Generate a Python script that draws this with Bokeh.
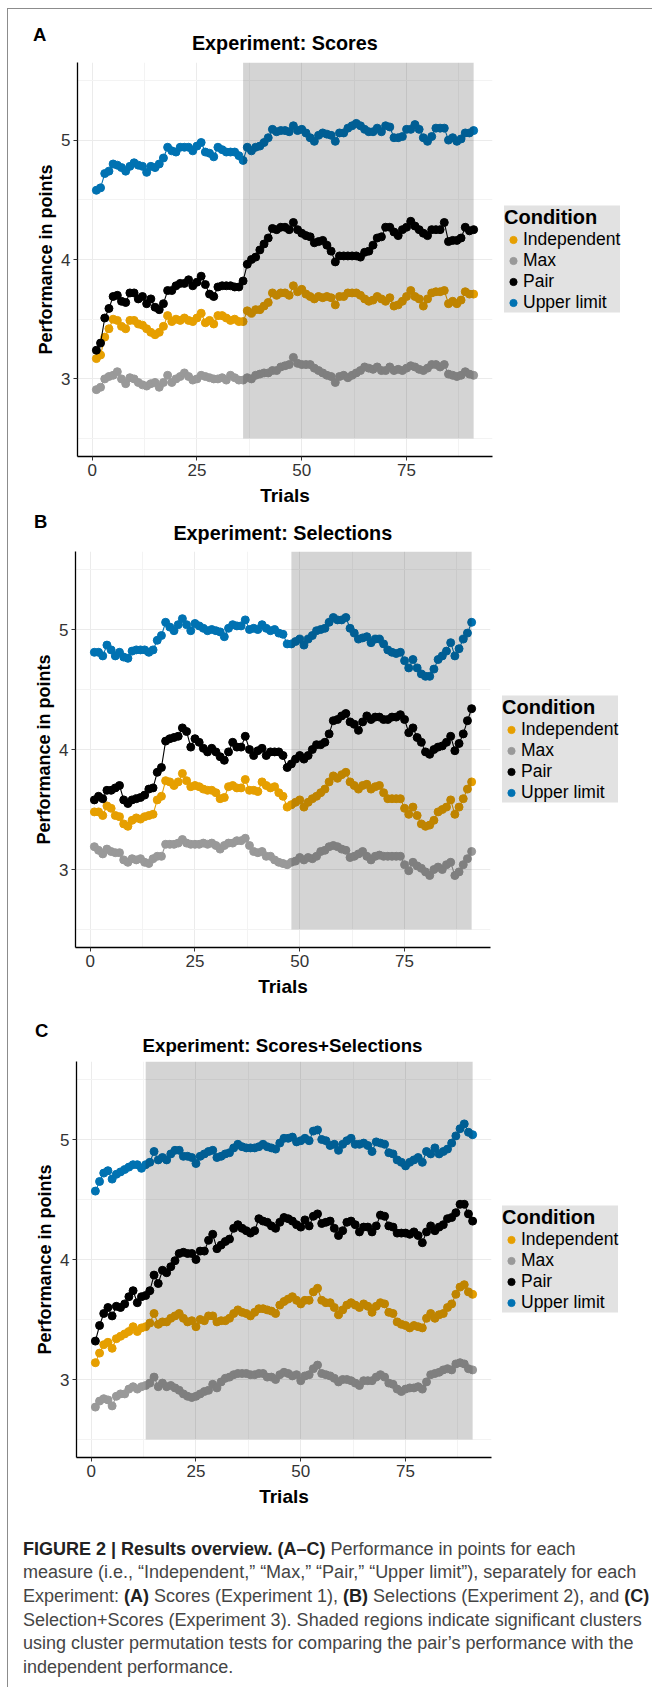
from bokeh.plotting import figure
from bokeh.models import Range1d, FixedTicker, Legend, LegendItem, Div
from bokeh.layouts import column, row
from bokeh.embed import file_html
from bokeh.resources import INLINE

# ---------------- data ----------------
trials = list(range(1, 92))
conditions = ["Independent", "Max", "Pair", "Upper limit"]
colors = ["#E69F00", "#999999", "#000000", "#0072B2"]

panel_letters = ["A", "B", "C"]
panel_titles = ["Experiment: Scores", "Experiment: Selections", "Experiment: Scores+Selections"]
cluster_start = [36, 48, 13]
cluster_end = [91, 91, 91]
cluster_bottom = 2.5
y_limits = (2.5, 5.5)
x_ticks = [0, 25, 50, 75]
x_minor = [12.5, 37.5, 62.5, 87.5]
y_ticks = [3, 4, 5]
y_minor = [2.5, 3.5, 4.5, 5.5]

A_independent = [3.17,3.20,3.35,3.42,3.50,3.49,3.44,3.42,3.49,3.49,
                 3.46,3.45,3.42,3.39,3.37,3.39,3.44,3.53,3.48,3.50,
                 3.49,3.51,3.49,3.48,3.51,3.55,3.47,3.49,3.46,3.53,
                 3.53,3.51,3.49,3.50,3.48,3.48,3.57,3.55,3.58,3.58,
                 3.61,3.64,3.72,3.70,3.72,3.72,3.70,3.78,3.73,3.75,
                 3.71,3.69,3.67,3.69,3.68,3.69,3.68,3.62,3.69,3.69,
                 3.72,3.72,3.72,3.70,3.67,3.65,3.66,3.69,3.67,3.65,
                 3.68,3.61,3.62,3.65,3.69,3.74,3.69,3.67,3.61,3.67,
                 3.72,3.73,3.73,3.74,3.63,3.65,3.63,3.66,3.73,3.71,3.71]
A_max = [2.91,2.93,3.00,3.02,3.03,3.06,3.00,2.96,3.01,3.00,
         2.97,2.95,2.94,2.96,2.97,2.93,2.97,3.03,2.97,3.00,
         3.02,3.05,3.02,2.99,3.00,3.03,3.02,3.01,3.00,3.00,
         3.01,2.99,3.03,3.01,2.99,2.99,3.01,3.00,3.03,3.04,
         3.05,3.05,3.07,3.07,3.10,3.11,3.12,3.18,3.13,3.12,
         3.12,3.12,3.09,3.07,3.05,3.03,3.02,2.97,3.02,3.03,
         3.01,3.03,3.05,3.07,3.10,3.09,3.08,3.10,3.07,3.07,
         3.10,3.07,3.08,3.07,3.09,3.11,3.10,3.08,3.07,3.09,
         3.12,3.12,3.10,3.12,3.04,3.03,3.02,3.03,3.06,3.04,3.03]
A_pair = [3.24,3.30,3.51,3.59,3.69,3.70,3.65,3.64,3.72,3.72,
          3.67,3.69,3.63,3.67,3.60,3.58,3.63,3.74,3.74,3.78,
          3.80,3.80,3.83,3.78,3.81,3.86,3.79,3.71,3.69,3.77,
          3.78,3.78,3.78,3.77,3.77,3.82,3.96,4.00,4.02,4.08,
          4.13,4.18,4.26,4.25,4.27,4.27,4.25,4.31,4.25,4.22,
          4.20,4.19,4.14,4.15,4.16,4.12,4.07,3.98,4.03,4.03,
          4.03,4.03,4.03,4.02,4.06,4.07,4.12,4.18,4.19,4.27,
          4.27,4.23,4.20,4.25,4.27,4.32,4.28,4.25,4.22,4.20,
          4.25,4.25,4.25,4.31,4.15,4.16,4.16,4.18,4.27,4.24,4.25]
A_upper = [4.58,4.60,4.72,4.74,4.80,4.79,4.77,4.74,4.78,4.81,
           4.79,4.78,4.73,4.78,4.77,4.80,4.85,4.94,4.91,4.90,
           4.94,4.94,4.94,4.91,4.95,4.98,4.90,4.89,4.86,4.94,
           4.92,4.90,4.90,4.90,4.87,4.83,4.94,4.91,4.94,4.95,
           4.98,5.02,5.09,5.07,5.08,5.08,5.07,5.12,5.08,5.09,
           5.06,5.02,4.99,5.04,5.06,5.05,5.04,4.99,5.06,5.06,
           5.10,5.12,5.14,5.12,5.09,5.07,5.07,5.10,5.07,5.12,
           5.11,5.02,5.02,5.03,5.09,5.09,5.13,5.09,5.02,4.99,
           5.03,5.10,5.10,5.10,5.00,5.02,4.99,5.01,5.06,5.06,5.08]

B_independent = [3.48,3.48,3.45,3.53,3.51,3.45,3.44,3.38,3.36,3.41,
                 3.43,3.42,3.44,3.45,3.46,3.58,3.61,3.74,3.73,3.70,
                 3.73,3.80,3.74,3.69,3.70,3.69,3.67,3.66,3.66,3.64,
                 3.59,3.60,3.69,3.70,3.68,3.68,3.75,3.66,3.66,3.65,
                 3.73,3.70,3.68,3.69,3.64,3.61,3.52,3.54,3.56,3.58,
                 3.52,3.56,3.59,3.61,3.64,3.67,3.73,3.78,3.76,3.79,
                 3.81,3.73,3.70,3.67,3.70,3.71,3.67,3.69,3.70,3.64,
                 3.59,3.59,3.59,3.59,3.51,3.46,3.52,3.45,3.38,3.36,
                 3.37,3.41,3.48,3.50,3.52,3.58,3.46,3.52,3.59,3.67,3.73]
B_max = [3.19,3.16,3.13,3.17,3.15,3.14,3.14,3.08,3.06,3.09,
         3.08,3.09,3.06,3.05,3.09,3.11,3.11,3.21,3.21,3.21,
         3.22,3.25,3.22,3.21,3.21,3.21,3.22,3.21,3.22,3.20,
         3.17,3.20,3.22,3.22,3.24,3.24,3.26,3.20,3.15,3.14,
         3.15,3.11,3.11,3.08,3.06,3.05,3.04,3.06,3.07,3.10,
         3.08,3.10,3.09,3.11,3.15,3.16,3.19,3.20,3.19,3.17,
         3.16,3.10,3.11,3.13,3.15,3.11,3.08,3.11,3.12,3.11,
         3.11,3.11,3.11,3.11,3.04,2.99,3.06,3.03,3.01,2.98,
         2.95,3.00,3.02,3.00,3.04,3.06,2.95,2.98,3.04,3.09,3.15]
B_pair = [3.58,3.61,3.59,3.66,3.66,3.68,3.70,3.58,3.55,3.58,
          3.59,3.60,3.62,3.67,3.68,3.81,3.85,4.07,4.09,4.10,
          4.11,4.18,4.15,4.02,4.09,4.06,4.01,3.98,4.01,3.98,
          3.94,3.91,3.98,4.06,4.02,4.02,4.11,4.00,3.95,3.99,
          4.01,3.95,3.98,3.98,3.98,3.95,3.85,3.88,3.92,3.95,
          3.92,3.95,4.00,4.04,4.04,4.06,4.13,4.24,4.25,4.28,
          4.30,4.23,4.21,4.16,4.23,4.28,4.25,4.27,4.27,4.25,
          4.25,4.27,4.27,4.29,4.25,4.14,4.18,4.10,4.06,3.98,
          3.96,4.00,4.02,4.03,4.06,4.11,3.99,4.05,4.13,4.24,4.34]
B_upper = [4.81,4.81,4.78,4.87,4.83,4.78,4.81,4.77,4.76,4.82,
           4.83,4.83,4.83,4.81,4.83,4.91,4.95,5.06,5.02,4.99,
           5.04,5.09,5.04,4.99,5.05,5.03,5.01,4.99,5.00,4.99,
           4.98,4.94,5.01,5.04,5.03,5.03,5.08,5.00,5.01,5.00,
           5.04,5.01,4.99,5.00,4.97,4.96,4.88,4.88,4.90,4.92,
           4.87,4.92,4.95,4.99,5.00,5.01,5.06,5.10,5.08,5.08,
           5.10,5.01,4.97,4.92,4.93,4.94,4.89,4.92,4.92,4.88,
           4.83,4.81,4.80,4.81,4.74,4.68,4.75,4.68,4.63,4.61,
           4.61,4.67,4.75,4.78,4.82,4.89,4.78,4.84,4.92,4.97,5.06]

C_independent = [3.14,3.22,3.29,3.31,3.26,3.34,3.36,3.38,3.40,3.44,
                 3.40,3.43,3.44,3.47,3.55,3.46,3.48,3.48,3.51,3.53,
                 3.55,3.51,3.48,3.49,3.44,3.50,3.49,3.53,3.53,3.48,
                 3.49,3.49,3.51,3.55,3.58,3.56,3.55,3.53,3.56,3.59,
                 3.59,3.58,3.57,3.55,3.62,3.65,3.67,3.69,3.66,3.63,
                 3.66,3.66,3.73,3.76,3.66,3.64,3.64,3.60,3.54,3.58,
                 3.62,3.64,3.62,3.60,3.63,3.61,3.56,3.61,3.64,3.63,
                 3.56,3.55,3.48,3.46,3.45,3.43,3.45,3.44,3.43,3.51,
                 3.55,3.51,3.54,3.55,3.60,3.63,3.71,3.77,3.79,3.73,3.71]
C_max = [2.77,2.82,2.84,2.83,2.78,2.86,2.88,2.88,2.92,2.94,
         2.92,2.94,2.95,2.97,3.02,2.94,2.97,2.94,2.95,2.93,
         2.91,2.88,2.86,2.85,2.86,2.88,2.90,2.91,2.96,2.93,
         2.98,3.01,3.02,3.04,3.05,3.05,3.05,3.04,3.04,3.05,
         3.05,3.02,3.02,3.00,3.04,3.06,3.05,3.03,3.04,2.99,
         3.03,3.04,3.09,3.12,3.05,3.04,3.03,3.01,2.98,3.00,
         3.00,2.99,2.97,2.95,2.99,2.99,2.99,3.02,3.04,3.02,
         2.97,2.96,2.92,2.90,2.92,2.93,2.93,2.94,2.92,2.98,
         3.04,3.05,3.06,3.08,3.09,3.08,3.13,3.14,3.13,3.09,3.08]
C_pair = [3.32,3.45,3.55,3.60,3.53,3.61,3.60,3.63,3.69,3.74,
          3.64,3.69,3.70,3.74,3.87,3.80,3.91,3.89,3.94,3.99,
          4.05,4.06,4.05,4.05,4.00,4.07,4.07,4.16,4.21,4.09,
          4.12,4.15,4.17,4.26,4.29,4.26,4.24,4.22,4.24,4.34,
          4.32,4.31,4.28,4.26,4.31,4.35,4.34,4.32,4.29,4.27,
          4.33,4.28,4.36,4.38,4.30,4.31,4.32,4.26,4.20,4.24,
          4.31,4.32,4.29,4.23,4.27,4.27,4.23,4.28,4.37,4.36,
          4.28,4.27,4.22,4.22,4.22,4.21,4.23,4.20,4.14,4.23,
          4.28,4.24,4.27,4.29,4.34,4.35,4.39,4.46,4.46,4.38,4.32]
C_upper = [4.57,4.65,4.72,4.74,4.67,4.71,4.73,4.75,4.77,4.79,
           4.79,4.76,4.79,4.81,4.90,4.83,4.85,4.83,4.88,4.91,
           4.91,4.86,4.86,4.85,4.80,4.86,4.88,4.90,4.91,4.85,
           4.86,4.88,4.89,4.93,4.96,4.94,4.93,4.93,4.93,4.94,
           4.96,4.94,4.93,4.92,4.97,5.01,5.01,5.02,4.98,4.99,
           5.01,4.99,5.07,5.08,5.00,4.99,4.95,4.96,4.91,4.96,
           4.99,5.01,4.96,4.96,4.97,4.95,4.90,4.98,4.97,4.96,
           4.89,4.88,4.83,4.81,4.78,4.81,4.83,4.85,4.81,4.90,
           4.88,4.93,4.88,4.90,4.92,4.97,5.03,5.09,5.13,5.06,5.04]

panel_series = [
    [A_independent, A_max, A_pair, A_upper],
    [B_independent, B_max, B_pair, B_upper],
    [C_independent, C_max, C_pair, C_upper],
]

caption_lines = [
    "<b>FIGURE 2 | Results overview. (A\u2013C)</b> Performance in points for each",
    "measure (i.e., \u201cIndependent,\u201d \u201cMax,\u201d \u201cPair,\u201d \u201cUpper limit\u201d), separately for each",
    "Experiment: <b>(A)</b> Scores (Experiment 1), <b>(B)</b> Selections (Experiment 2), and <b>(C)</b>",
    "Selection+Scores (Experiment 3). Shaded regions indicate significant clusters",
    "using cluster permutation tests for comparing the pair\u2019s performance with the",
    "independent performance.",
]

# ---------------- layout / style ----------------
FONT = "Liberation Sans"
FW, FH = 415, 396
TOTAL_W = 637
header_h = [51, 41, 60]            # height of the letter/title strip above each panel
border_bottom = [50, 52, 55]
border_left = [69, 67, 68]
legend_margin = [7, 7, 6]
# letter: (left, top) ; title: (centre x, top)  -- inside header strip
letter_pos = [(25, 15.3), (26, 3.0), (27, 20.9)]
title_pos = [(276.8, 22.1), (274.8, 13.1), (274.5, 35.2)]
title_size = [19.8, 19.8, 18.7]

x_pad = 0.05 * (max(trials) - min(trials))
y_pad = 0.05 * (y_limits[1] - y_limits[0])
x_lo, x_hi = min(trials) - x_pad, max(trials) + x_pad
y_lo, y_hi = y_limits[0] - y_pad, y_limits[1] + y_pad


def header(i):
    lx, ly = letter_pos[i]
    tx, ty = title_pos[i]
    html = (
        f"<div style=\"position:relative;width:{TOTAL_W}px;height:{header_h[i]}px;"
        f"font-family:'{FONT}';font-weight:bold;color:#000;\">"
        f"<span style=\"position:absolute;left:{lx}px;top:{ly}px;line-height:22px;"
        f"font-size:18.5px;\">{panel_letters[i]}</span>"
        f"<span style=\"position:absolute;left:{tx - 250}px;width:500px;text-align:center;"
        f"top:{ty}px;line-height:24px;font-size:{title_size[i]}px;white-space:nowrap;\">"
        f"{panel_titles[i]}</span></div>"
    )
    return Div(text=html, width=TOTAL_W, height=header_h[i], margin=0)


def make_panel(i):
    pw = border_left[i] + FW + 5
    ph = 2 + FH + border_bottom[i]
    p = figure(width=pw, height=ph,
               x_range=Range1d(x_lo, x_hi), y_range=Range1d(y_lo, y_hi),
               output_backend="svg", toolbar_location=None, title=None,
               min_border_top=2, min_border_bottom=border_bottom[i],
               min_border_left=border_left[i], min_border_right=5, margin=0)
    p.outline_line_color = None
    p.background_fill_color = "white"

    xt = FixedTicker(ticks=x_ticks, minor_ticks=x_minor)
    yt = FixedTicker(ticks=y_ticks, minor_ticks=y_minor)
    p.xaxis.ticker = xt
    p.yaxis.ticker = yt
    p.xgrid.ticker = xt
    p.ygrid.ticker = yt
    for g in (p.xgrid, p.ygrid):
        g.grid_line_color = "#ebebeb"
        g.grid_line_width = 1
        g.minor_grid_line_color = "#f3f3f3"
        g.minor_grid_line_width = 1

    for ax in (p.xaxis, p.yaxis):
        ax.axis_line_color = "black"
        ax.axis_line_width = 1.3
        ax.major_tick_line_color = "#333333"
        ax.major_tick_out = 4
        ax.major_tick_in = 0
        ax.minor_tick_line_color = None
        ax.major_label_text_font = FONT
        ax.major_label_text_font_size = "17px"
        ax.major_label_text_color = "#333333"
        ax.major_label_standoff = 3
        ax.axis_label_text_font = FONT
        ax.axis_label_text_font_style = "bold"
        ax.axis_label_text_color = "black"
    p.xaxis.axis_label = "Trials"
    p.xaxis.axis_label_text_font_size = "19px"
    p.xaxis.axis_label_standoff = 6
    p.yaxis.axis_label = "Performance in points"
    p.yaxis.axis_label_text_font_size = "18px"
    p.yaxis.axis_label_standoff = 2

    for name, col, vals in zip(conditions, colors, panel_series[i]):
        p.line(trials, vals, line_color=col, line_width=1.1)
        p.scatter(trials, vals, size=8, fill_color=col, line_color=col)

    # shaded significant cluster, drawn over the series (semi-transparent)
    p.quad(left=[cluster_start[i]], right=[cluster_end[i]],
           bottom=[cluster_bottom], top=[y_hi],
           fill_color="black", fill_alpha=0.17, line_color=None)

    # legend lives in its own narrow figure to the right of the panel
    lw = TOTAL_W - pw
    lf = figure(width=lw, height=ph, x_range=Range1d(0, 1), y_range=Range1d(0, 1),
                output_backend="svg", toolbar_location=None, title=None,
                x_axis_location=None, y_axis_location=None,
                min_border_top=2, min_border_bottom=border_bottom[i],
                min_border_left=0, min_border_right=0, margin=0)
    lf.outline_line_color = None
    lf.xgrid.visible = False
    lf.ygrid.visible = False
    items = []
    nan = float("nan")
    for name, col in zip(conditions, colors):
        # proxy renderer (no visible data) that only provides the legend key
        r = lf.scatter(x=[nan], y=[nan], size=8, fill_color=col, line_color=col)
        items.append(LegendItem(label=name, renderers=[r]))
    legend = Legend(items=items, title="Condition", location="center_left",
                    background_fill_color="#e2e2e2", background_fill_alpha=1,
                    border_line_color=None,
                    title_text_font=FONT, title_text_font_style="bold",
                    title_text_font_size="20px", title_text_color="black",
                    title_standoff=0,
                    label_text_font=FONT, label_text_font_size="17.5px",
                    label_text_color="black",
                    label_standoff=1, glyph_width=18, glyph_height=18,
                    label_height=16, spacing=0, padding=4,
                    margin=legend_margin[i])
    lf.add_layout(legend, "center")
    return row(p, lf, spacing=0, margin=0)


blocks = []
for i in range(3):
    blocks.append(header(i))
    blocks.append(make_panel(i))

caption_html = (
    "<div style=\"font-family:'Liberation Sans', Arial, sans-serif; font-size:18px; line-height:23.7px;"
    " color:#454545; padding:25.5px 0 0 15px; white-space:nowrap;\">"
    + "<br>".join(caption_lines).replace("<b>", "<b style=\"color:#222;\">") + "</div>"
)
blocks.append(Div(text=caption_html, width=644, height=175, margin=0))

layout = column(*blocks, spacing=0, margin=(8, 0, 0, 7),
                styles={"border-left": "1px solid #8c8c8c", "border-top": "1px solid #8c8c8c"})

open("out.html", "w").write(file_html(layout, INLINE))
